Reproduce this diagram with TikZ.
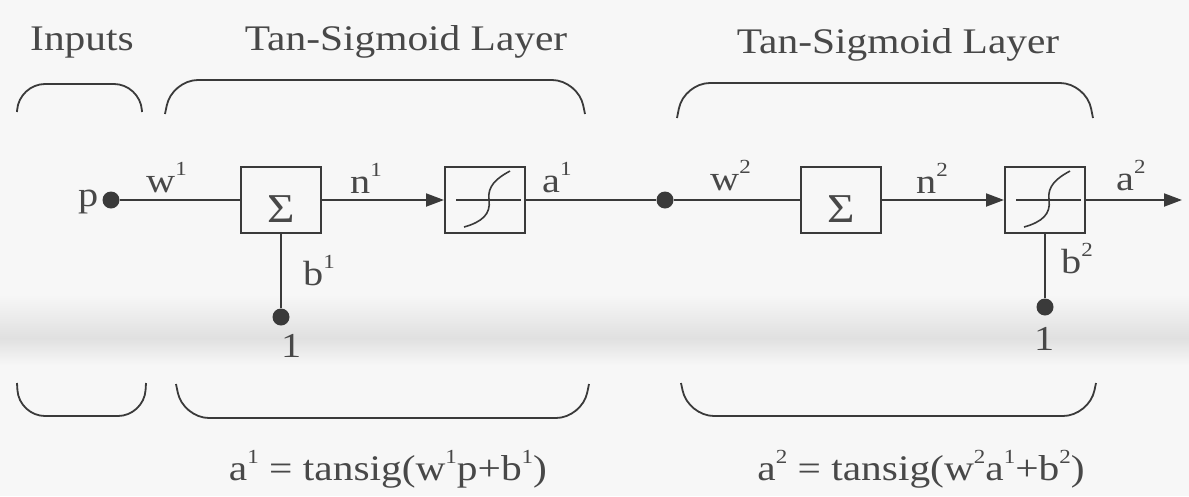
\documentclass[tikz,border=0pt]{standalone}
\usepackage{fontspec}
\setmainfont{Liberation Serif}[FakeStretch=1.15]
\usetikzlibrary{arrows.meta}
\definecolor{ink}{HTML}{3A3A3A}
\definecolor{txt}{HTML}{484848}
\definecolor{paper}{HTML}{F7F7F7}
\definecolor{smudge}{HTML}{E0E0E0}
\newcommand\sups[1]{\raisebox{17pt}{\fontsize{20}{20}\selectfont #1}}
\begin{document}
\begin{tikzpicture}[x=1pt,y=-1pt,
  wire/.style={draw=ink,line width=2pt},
  arr/.style={wire,-{Triangle[length=18pt,width=13pt]}},
  blk/.style={draw=ink,line width=2pt,minimum width=80pt,minimum height=66pt,inner sep=0pt},
  sumblk/.style={blk,font=\fontsize{41}{41}\selectfont,text=txt,text height=44pt,text depth=0pt},
  dot/.style={circle,fill=ink,inner sep=0pt,minimum size=17pt},
  lbl/.style={text=txt,font=\fontsize{35}{38}\selectfont,inner sep=0pt,anchor=base west},
  head/.style={text=txt,font=\fontsize{36}{40}\selectfont,inner sep=0pt,anchor=base},
  brk/.style={draw=ink,line width=1.8pt,rounded corners=26pt},
  sigcurve/.style={draw=ink,line width=1.6pt},
]
% paper
\fill[paper] (0,0) rectangle (1189,496);
\useasboundingbox (0,0) rectangle (1189,496);
\shade[top color=paper,bottom color=smudge] (0,295) rectangle (1189,338);
\shade[top color=smudge,bottom color=paper] (0,338) rectangle (1189,365);

% headings
\node[head] (hin) at (82,50) {Inputs};
\node[head] (hl1) at (406,50) {Tan-Sigmoid Layer};
\node[head] (hl2) at (898,53) {Tan-Sigmoid Layer};

% top brackets
\draw[brk] (17,112) -- (19,84) -- (140,84) -- (142,112);
\draw[brk] (165,114) -- (172,80) -- (578,80) -- (585,114);
\draw[brk] (677,118) -- (684,83) -- (1086,83) -- (1093,118);
% bottom brackets
\draw[brk] (17,383) -- (19,416) -- (144,416) -- (146,383);
\draw[brk] (176,384) -- (183,418) -- (582,418) -- (589,384);
\draw[brk] (681,383) -- (688,416) -- (1089,416) -- (1096,383);

% nodes
\node[dot] (pdot) at (111,200) {};
\node[lbl] (plbl) at (78,206) {p};
\node[sumblk] (sum1) at (281,200) {Σ};
\node[blk] (sig1) at (485,200) {};
\node[dot] (a1dot) at (665,200) {};
\node[sumblk] (sum2) at (841,200) {Σ};
\node[blk] (sig2) at (1045,200) {};
\coordinate (out) at (1182,200);
\node[dot] (b1dot) at (281,317) {};
\node[dot] (b2dot) at (1045,307) {};

% sigmoid glyphs
\foreach \s in {sig1,sig2}{
  \begin{scope}[shift={(\s.center)}]
    \draw[sigcurve] (-29,0) -- (36,0);
    \draw[sigcurve] (-21,27) .. controls (-3,22) and (6,14) .. (4,0)
                    .. controls (2,-14) and (12,-22) .. (25,-29);
  \end{scope}
}

% connectors
\draw[wire] (pdot) -- (sum1);
\draw[arr] (sum1) -- (sig1);
\draw[wire] (sig1) -- (a1dot);
\draw[wire] (a1dot) -- (sum2);
\draw[arr] (sum2) -- (sig2);
\draw[arr] (sig2.east) -- (out);
\draw[wire] (b1dot) -- (sum1);
\draw[wire] (b2dot) -- (sig2);

% labels
\node[lbl] (w1) at (146,192) {w\sups{1}};
\node[lbl] (n1) at (350,193) {n\sups{1}};
\node[lbl] (a1) at (542,192) {a\sups{1}};
\node[lbl] (w2) at (710,190) {w\sups{2}};
\node[lbl] (n2) at (916,193) {n\sups{2}};
\node[lbl] (a2) at (1116,190) {a\sups{2}};
\node[lbl] (b1) at (303,285) {b\sups{1}};
\node[lbl] (b2) at (1061,273) {b\sups{2}};
\node[lbl] (one1) at (281,357) {1};
\node[lbl] (one2) at (1034,350) {1};

% equations
\node[head] (eq1) at (388,480) {a\sups{1} = tansig(w\sups{1}p+b\sups{1})};
\node[head] (eq2) at (921,480) {a\sups{2} = tansig(w\sups{2}a\sups{1}+b\sups{2})};
\end{tikzpicture}
\end{document}
